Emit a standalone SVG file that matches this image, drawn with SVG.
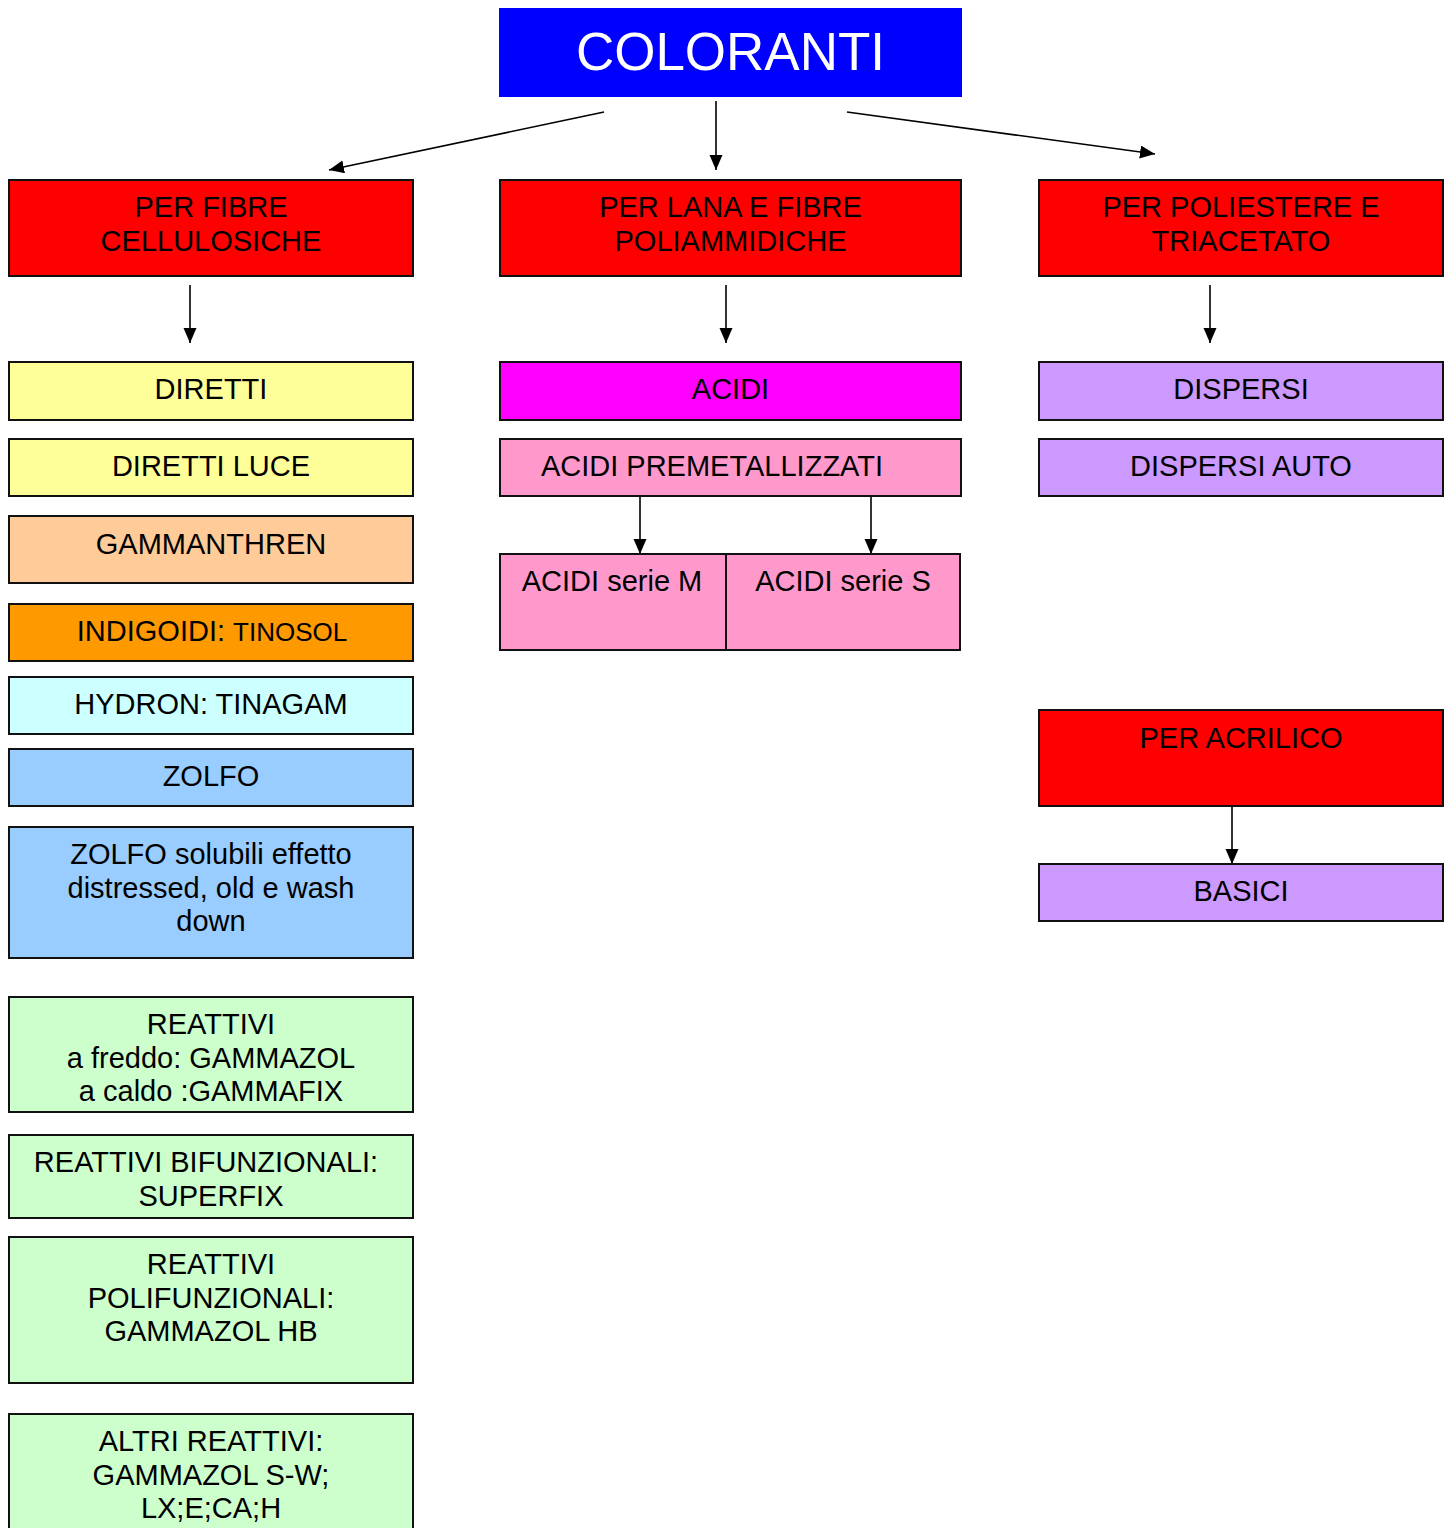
<svg xmlns="http://www.w3.org/2000/svg" width="1450" height="1528" viewBox="0 0 1450 1528">
<style>
.box{stroke:#111;stroke-width:2}
.t{font-family:"Liberation Sans",Arial,sans-serif;font-size:29px;fill:#000;text-anchor:middle}
.w{font-family:"Liberation Sans",Arial,sans-serif;font-size:53px;fill:#fff;text-anchor:middle}
.c{stroke:#000;stroke-width:1.6;fill:none;marker-end:url(#ah)}
</style>
<defs>
<marker id="ah" markerUnits="userSpaceOnUse" markerWidth="16" markerHeight="14" refX="15" refY="6.5" orient="auto">
<path d="M0,0 L15,6.5 L0,13 Z" fill="#000"/>
</marker>
</defs>
<rect width="1450" height="1528" fill="#fff"/>
<g id="connectors">
<line class="c" x1="604" y1="112" x2="329" y2="170"/>
<line class="c" x1="716" y1="101" x2="716" y2="170"/>
<line class="c" x1="847" y1="112" x2="1155" y2="154"/>
<line class="c" x1="190" y1="285" x2="190" y2="343"/>
<line class="c" x1="726" y1="285" x2="726" y2="343"/>
<line class="c" x1="1210" y1="285" x2="1210" y2="343"/>
<line class="c" x1="640" y1="497" x2="640" y2="554"/>
<line class="c" x1="871" y1="497" x2="871" y2="554"/>
<line class="c" x1="1232" y1="807" x2="1232" y2="864"/>
</g>
<g id="coloranti"><rect x="499" y="8" width="463" height="89" fill="#0000ff"/><text class="w" x="730.5" y="70">COLORANTI</text></g>
<g id="fibre-cellulosiche"><rect class="box" x="9" y="180" width="404" height="96" fill="#ff0000"/><text class="t" x="211" y="217">PER FIBRE</text><text class="t" x="211" y="251">CELLULOSICHE</text></g>
<g id="lana"><rect class="box" x="500" y="180" width="461" height="96" fill="#ff0000"/><text class="t" x="730.5" y="217">PER LANA E FIBRE</text><text class="t" x="730.5" y="251">POLIAMMIDICHE</text></g>
<g id="poliestere"><rect class="box" x="1039" y="180" width="404" height="96" fill="#ff0000"/><text class="t" x="1241" y="217">PER POLIESTERE E</text><text class="t" x="1241" y="251">TRIACETATO</text></g>
<g id="diretti"><rect class="box" x="9" y="362" width="404" height="58" fill="#ffff99"/><text class="t" x="211" y="399">DIRETTI</text></g>
<g id="diretti-luce"><rect class="box" x="9" y="439" width="404" height="57" fill="#ffff99"/><text class="t" x="211" y="476">DIRETTI LUCE</text></g>
<g id="gammanthren"><rect class="box" x="9" y="516" width="404" height="67" fill="#ffcc99"/><text class="t" x="211" y="554">GAMMANTHREN</text></g>
<g id="indigoidi"><rect class="box" x="9" y="604" width="404" height="57" fill="#ff9900"/><text class="t" x="212" y="641">INDIGOIDI: <tspan style="font-size:26px">TINOSOL</tspan></text></g>
<g id="hydron"><rect class="box" x="9" y="677" width="404" height="57" fill="#ccffff"/><text class="t" x="211" y="714">HYDRON: TINAGAM</text></g>
<g id="zolfo"><rect class="box" x="9" y="749" width="404" height="57" fill="#99ccff"/><text class="t" x="211" y="786">ZOLFO</text></g>
<g id="zolfo-solubili"><rect class="box" x="9" y="827" width="404" height="131" fill="#99ccff"/><text class="t" x="211" y="864">ZOLFO solubili effetto</text><text class="t" x="211" y="898">distressed, old e wash</text><text class="t" x="211" y="931">down</text></g>
<g id="reattivi"><rect class="box" x="9" y="997" width="404" height="115" fill="#ccffcc"/><text class="t" x="211" y="1034">REATTIVI</text><text class="t" x="211" y="1068">a freddo: GAMMAZOL</text><text class="t" x="211" y="1101">a caldo :GAMMAFIX</text></g>
<g id="reattivi-bif"><rect class="box" x="9" y="1135" width="404" height="83" fill="#ccffcc"/><text class="t" x="206" y="1172">REATTIVI BIFUNZIONALI:</text><text class="t" x="211" y="1206">SUPERFIX</text></g>
<g id="reattivi-pol"><rect class="box" x="9" y="1237" width="404" height="146" fill="#ccffcc"/><text class="t" x="211" y="1274">REATTIVI</text><text class="t" x="211" y="1308">POLIFUNZIONALI:</text><text class="t" x="211" y="1341">GAMMAZOL HB</text></g>
<g id="altri-reattivi"><rect class="box" x="9" y="1414" width="404" height="130" fill="#ccffcc"/><text class="t" x="211" y="1451">ALTRI REATTIVI:</text><text class="t" x="211" y="1485">GAMMAZOL S-W;</text><text class="t" x="211" y="1518">LX;E;CA;H</text></g>
<g id="acidi"><rect class="box" x="500" y="362" width="461" height="58" fill="#ff00ff"/><text class="t" x="730.5" y="399">ACIDI</text></g>
<g id="acidi-premet"><rect class="box" x="500" y="439" width="461" height="57" fill="#ff99cc"/><text class="t" x="712" y="476">ACIDI PREMETALLIZZATI</text></g>
<g id="acidi-m"><rect class="box" x="500" y="554" width="226" height="96" fill="#ff99cc"/><text class="t" x="612" y="591">ACIDI serie M</text></g>
<g id="acidi-s"><rect class="box" x="726" y="554" width="234" height="96" fill="#ff99cc"/><text class="t" x="843" y="591">ACIDI serie S</text></g>
<g id="dispersi"><rect class="box" x="1039" y="362" width="404" height="58" fill="#cc99ff"/><text class="t" x="1241" y="399">DISPERSI</text></g>
<g id="dispersi-auto"><rect class="box" x="1039" y="439" width="404" height="57" fill="#cc99ff"/><text class="t" x="1241" y="476">DISPERSI AUTO</text></g>
<g id="acrilico"><rect class="box" x="1039" y="710" width="404" height="96" fill="#ff0000"/><text class="t" x="1241" y="748">PER ACRILICO</text></g>
<g id="basici"><rect class="box" x="1039" y="864" width="404" height="57" fill="#cc99ff"/><text class="t" x="1241" y="901">BASICI</text></g>
</svg>
